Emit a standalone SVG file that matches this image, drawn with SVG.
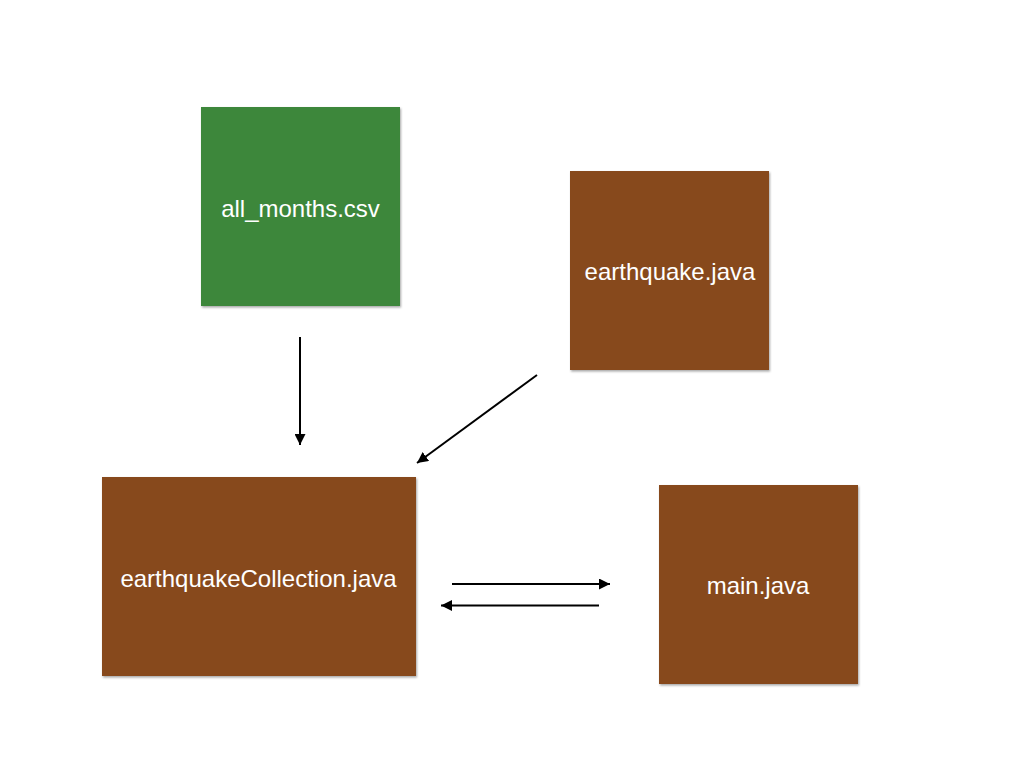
<svg xmlns="http://www.w3.org/2000/svg" width="1024" height="768" viewBox="0 0 1024 768">
<defs>
<style>
.box{stroke:none;filter:url(#sh)}
.green{fill:#3E873A}
.brown{fill:#87491E}
.lbl{fill:#FFFFFF;font-family:"Liberation Sans",Arial,sans-serif;font-size:24px;text-anchor:middle}
.conn{stroke:#000;stroke-width:2;fill:none;marker-end:url(#ah)}
</style>
<filter id="sh" x="-5%" y="-5%" width="110%" height="110%">
<feDropShadow dx="1" dy="1.5" stdDeviation="1" flood-color="#000" flood-opacity="0.35"/>
</filter>
<marker id="ah" viewBox="0 0 10 10" refX="10" refY="5" markerWidth="5.5" markerHeight="5.5" orient="auto" markerUnits="strokeWidth">
<path d="M0,0 L10,5 L0,10 Z" fill="#000"/>
</marker>
</defs>
<rect width="1024" height="768" fill="#fff"/>
<g id="connectors">
<line class="conn" x1="300" y1="337" x2="300" y2="445"/>
<line class="conn" x1="537" y1="375" x2="417" y2="463"/>
<line class="conn" x1="452" y1="584" x2="610" y2="584"/>
<line class="conn" x1="599" y1="605.5" x2="441" y2="605.5"/>
</g>
<g id="all_months">
<rect class="box green" x="201" y="107" width="199" height="199"/>
<text class="lbl" x="300.5" y="217">all_months.csv</text>
</g>
<g id="earthquake">
<rect class="box brown" x="570" y="171" width="199" height="199"/>
<text class="lbl" x="670" y="280">earthquake.java</text>
</g>
<g id="earthquakeCollection">
<rect class="box brown" x="102" y="477" width="314" height="199"/>
<text class="lbl" x="258.5" y="587">earthquakeCollection.java</text>
</g>
<g id="main">
<rect class="box brown" x="659" y="485" width="199" height="199"/>
<text class="lbl" x="758" y="594">main.java</text>
</g>
</svg>
